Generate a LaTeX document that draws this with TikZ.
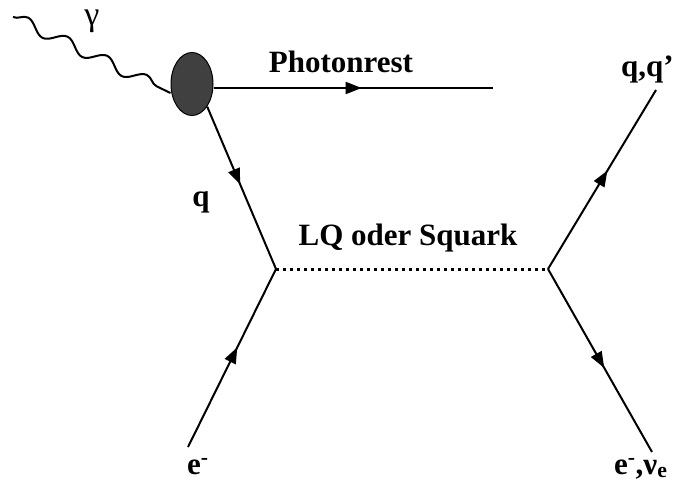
\documentclass[tikz,border=0pt]{standalone}
\usepackage{fontspec}
\setmainfont{Liberation Serif}
\usetikzlibrary{decorations.pathmorphing,decorations.markings,arrows.meta,shapes.geometric}
\begin{document}
\begin{tikzpicture}[x=1pt,y=-1pt,
  fermion/.style={line width=2pt, postaction={decorate},
    decoration={markings, mark=at position #1 with {\arrow{Triangle[length=16pt,width=12pt]}}}},
  photon/.style={line width=2pt, decorate, decoration={snake, segment length=44pt, amplitude=6pt}},
  scalar/.style={line width=3pt, dash pattern=on 3pt off 4pt},
  lbl/.style={font=\fontsize{31}{37}\selectfont\bfseries, inner sep=0pt},
  blobstyle/.style={ellipse, draw, line width=1pt, fill=black!75, minimum width=42pt, minimum height=63pt, inner sep=0pt}
]
\useasboundingbox (0,0) rectangle (674,487);
% coordinates
\coordinate (gs) at (13,17);
\coordinate (pr) at (493,88);
\coordinate (v1) at (276,269);
\coordinate (v2) at (548,269);
\coordinate (ein) at (188,447);
\coordinate (qout) at (656,90);
\coordinate (eout) at (652,452);
% blob
\node[blobstyle] (blob) at (192,84) {};
% photon
\draw[photon] (gs) -- (blob.west |- 0,93);
% lines
\draw[fermion=0.53] (blob.east |- pr) -- (pr);
\draw[fermion=0.48] (blob.south east) -- (v1);
\draw[fermion=0.56] (ein) -- (v1);
\draw[scalar] (v1) -- (v2);
\draw[fermion=0.55] (v2) -- (qout);
\draw[fermion=0.54] (v2) -- (eout);
% labels
\node[inner sep=0pt, font=\fontsize{34}{40}\selectfont, anchor=base] (tgam) at (92,26) {γ};
\node[lbl, anchor=base] (tphot) at (341,72) {Photonrest};
\node[lbl, anchor=base] (tq) at (201,206) {q};
\node[lbl, anchor=base] (tlq) at (408,245) {LQ oder Squark};
\node[lbl, anchor=base west] (tqq) at (621,77) {q,q'};
\node[lbl, anchor=base west] (te) at (187,474) {e\textsuperscript{-}};
\node[lbl, anchor=base west] (tenu) at (614,474) {e\textsuperscript{-},ν\textsubscript{e}};
\end{tikzpicture}
\end{document}
